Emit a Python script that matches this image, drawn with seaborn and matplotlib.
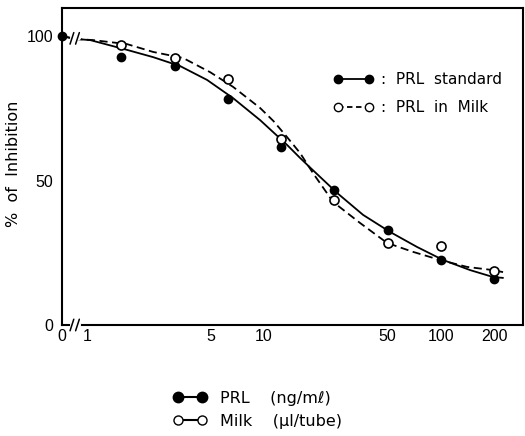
import numpy as np, pandas as pd
import matplotlib
matplotlib.use("Agg")
import matplotlib.pyplot as plt
from matplotlib.lines import Line2D
import seaborn as sns

# ---------------------------------------------------------------- DATA
# dose (ng/ml for PRL, ul/tube for milk); 0 is drawn at the broken left edge
dose = [0, 1.5625, 3.125, 6.25, 12.5, 25, 50, 100, 200]
prl_std = [100, 92.7, 89.6, 78.2, 61.6, 46.7, 32.9, 22.5, 15.9]
prl_milk = [100, 96.9, 92.4, 85.1, 64.4, 43.3, 28.4, 27.3, 18.7]

# fitted curves
fit_x_std = [0, 0.855, 1.04, 1.683, 2.361, 3.356, 4.768, 6.688, 9.506, 13.51,
             16.0, 18.22, 25.9, 36.33, 51.62, 73.37, 102.9, 146.3, 197.3, 224.7]
fit_y_std = [100, 99.0, 98.6, 95.2, 92.7, 89.6, 84.8, 78.5, 70.9, 62.3,
             57.8, 54.5, 45.7, 38.1, 32.2, 27.0, 22.5, 19.0, 16.6, 16.3]
fit_x_milk = [0, 0.855, 1.081, 1.683, 2.361, 3.488, 4.958, 6.688, 9.506, 11.3,
              13.51, 16.0, 18.95, 24.58, 34.93, 49.64, 69.66, 98.97, 140.7,
              197.3, 224.7]
fit_y_milk = [100, 99.0, 98.6, 97.2, 94.5, 92.4, 87.5, 82.4, 75.1, 70.6,
              65.0, 59.5, 52.5, 42.6, 35.3, 28.4, 25.3, 22.5, 20.1,
              19.0, 18.3]

xtick_vals = [0, 1, 5, 10, 50, 100, 200]
ytick_vals = [0, 50, 100]

X0 = 0.72   # where "0" sits on the log axis (left edge)
XMAX = 291
YMAX = 109.7

def pos(v):
    return [X0 if a == 0 else a for a in v]

sns.set_style("white")
plt.rcParams["font.family"] = ["Liberation Sans", "DejaVu Sans"]
plt.rcParams.update({"text.color": "black", "axes.labelcolor": "black",
                     "xtick.color": "black", "ytick.color": "black"})

fig = plt.figure(figsize=(5.25, 4.36), dpi=100)
ax = fig.add_axes([0.118, 0.2546, 0.878, 0.727])
ax.set_xscale("log")

sns.lineplot(x=pos(fit_x_std), y=fit_y_std, ax=ax, color="black", lw=1.3,
             sort=False, estimator=None)
sns.lineplot(x=pos(fit_x_milk), y=fit_y_milk, ax=ax, color="black", lw=1.3,
             sort=False, estimator=None, dashes=False, linestyle=(0, (4.5, 2.5)))
ax.plot(pos(dose), prl_std, "o", color="black", ms=6, clip_on=False, zorder=5)
ax.plot(pos(dose[1:]), prl_milk[1:], "o", mfc="white", mec="black", mew=1.2,
        ms=6.5, zorder=6)

ax.set_xlim(X0, XMAX)
ax.set_ylim(0, YMAX)
ax.set_xticks(pos(xtick_vals))
ax.set_xticklabels([str(v) for v in xtick_vals])
ax.xaxis.set_minor_locator(matplotlib.ticker.NullLocator())
ax.set_yticks(ytick_vals)
ax.tick_params(axis="x", direction="in", length=4, width=1.2, labelsize=11.5, pad=3)
ax.tick_params(axis="y", direction="out", length=4, width=1.2, labelsize=11.5, pad=2)
for s in ax.spines.values():
    s.set_linewidth(1.5); s.set_color("black")
ax.set_ylabel("%  of  Inhibition", fontsize=11.5, family="DejaVu Sans")
ax.yaxis.set_label_coords(-0.088, 0.51)

# axis / curve break marks
for yb in [0, 99.2]:
    ax.plot([0.82, 0.90], [yb, yb], color="white", lw=3, zorder=4, clip_on=False)
    for xb in [0.80, 0.86]:
        ax.plot([xb, xb * 1.05], [yb - 2, yb + 2], color="black", lw=1.1,
                zorder=4, clip_on=False)

# inner legend
h1 = Line2D([], [], color="black", lw=1.3, marker="o", ms=6)
h2 = Line2D([], [], color="black", lw=1.3, marker="o", ms=6, mfc="white",
            linestyle=(0, (3, 2)))
ax.legend([h1, h2], [":  PRL  standard", ":  PRL  in  Milk"],
          loc="upper left", bbox_to_anchor=(0.56, 0.84), frameon=False,
          prop={"family": "DejaVu Sans", "size": 11}, handlelength=2.6,
          handletextpad=0.5, labelspacing=0.85, numpoints=2)

# bottom legend
h3 = Line2D([], [], color="black", lw=1.5, marker="o", ms=7.5)
h4 = Line2D([], [], color="black", lw=1.5, marker="o", ms=6.5, mfc="white")
fig.legend([h3, h4], ["PRL    (ng/m\u2113)", "Milk    (\u03bcl/tube)"],
           loc="upper left", bbox_to_anchor=(0.318, 0.118), frameon=False,
           prop={"family": "DejaVu Sans", "size": 11.5}, handlelength=2.1,
           handletextpad=0.8, labelspacing=0.5, numpoints=2, borderaxespad=0)

fig.savefig("out.png", dpi=100)
